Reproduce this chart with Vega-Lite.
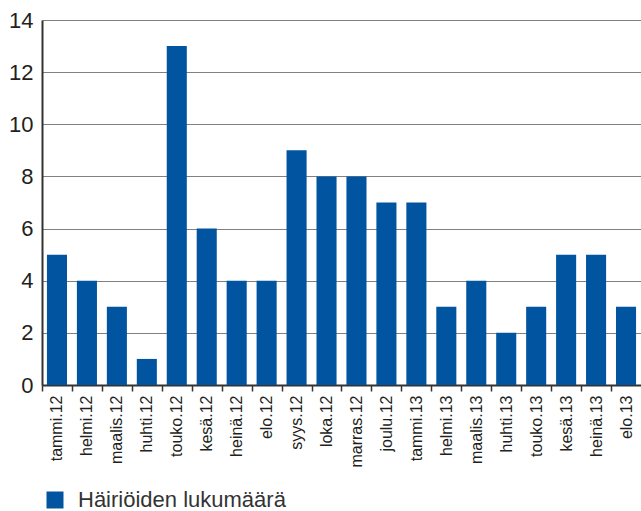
{
  "$schema": "https://vega.github.io/schema/vega-lite/v6.json",
  "width": 599,
  "height": 365,
  "autosize": "none",
  "padding": {"left": 42, "top": 20, "right": 0, "bottom": 126},
  "background": "white",
  "config": {
    "view": {"stroke": null},
    "font": "Liberation Sans"
  },
  "data": {
    "values": [
      {"kuukausi": "tammi.12", "lukumaara": 5},
      {"kuukausi": "helmi.12", "lukumaara": 4},
      {"kuukausi": "maalis.12", "lukumaara": 3},
      {"kuukausi": "huhti.12", "lukumaara": 1},
      {"kuukausi": "touko.12", "lukumaara": 13},
      {"kuukausi": "kesä.12", "lukumaara": 6},
      {"kuukausi": "heinä.12", "lukumaara": 4},
      {"kuukausi": "elo.12", "lukumaara": 4},
      {"kuukausi": "syys.12", "lukumaara": 9},
      {"kuukausi": "loka.12", "lukumaara": 8},
      {"kuukausi": "marras.12", "lukumaara": 8},
      {"kuukausi": "joulu.12", "lukumaara": 7},
      {"kuukausi": "tammi.13", "lukumaara": 7},
      {"kuukausi": "helmi.13", "lukumaara": 3},
      {"kuukausi": "maalis.13", "lukumaara": 4},
      {"kuukausi": "huhti.13", "lukumaara": 2},
      {"kuukausi": "touko.13", "lukumaara": 3},
      {"kuukausi": "kesä.13", "lukumaara": 5},
      {"kuukausi": "heinä.13", "lukumaara": 5},
      {"kuukausi": "elo.13", "lukumaara": 3}
    ]
  },
  "transform": [{"calculate": "'Häiriöiden lukumäärä'", "as": "sarja"}],
  "mark": {"type": "bar"},
  "encoding": {
    "x": {
      "field": "kuukausi",
      "type": "nominal",
      "sort": null,
      "title": null,
      "scale": {"paddingInner": 0.33, "paddingOuter": 0.165},
      "axis": {
        "labelAngle": -90,
        "labelFontSize": 16,
        "labelColor": "#231f20",
        "labelPadding": 4,
        "tickSize": 6,
        "tickWidth": 1.5,
        "tickColor": "#333333",
        "tickOffset": -15,
        "labelOffset": 15,
        "domainColor": "#333333",
        "domainWidth": 2
      }
    },
    "y": {
      "field": "lukumaara",
      "type": "quantitative",
      "title": null,
      "scale": {"domain": [0, 14]},
      "axis": {
        "values": [0, 2, 4, 6, 8, 10, 12, 14],
        "labelFontSize": 22,
        "labelColor": "#231f20",
        "labelPadding": 9,
        "ticks": false,
        "grid": true,
        "gridColor": "#808080",
        "gridWidth": 1,
        "domainColor": "#333333",
        "domainWidth": 2
      }
    },
    "color": {
      "field": "sarja",
      "type": "nominal",
      "scale": {"range": ["#0054a0"]},
      "legend": {
        "title": null,
        "orient": "none",
        "legendX": 2,
        "legendY": 469,
        "symbolType": "square",
        "symbolSize": 289,
        "symbolStrokeWidth": 0,
        "labelFontSize": 22,
        "labelColor": "#333333",
        "labelOffset": 12,
        "labelLimit": 400
      }
    }
  }
}
